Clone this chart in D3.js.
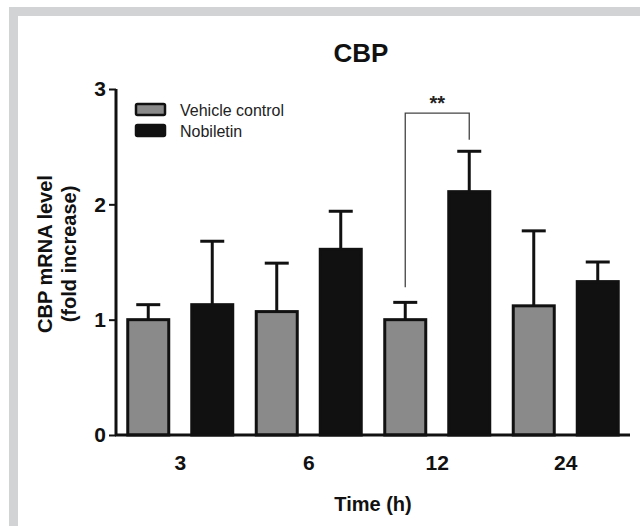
<!DOCTYPE html>
<meta charset="utf-8">
<script src="https://d3js.org/d3.v7.min.js"></script>
<style>
  body { margin: 0; background: #fff; }
  text { font-family: "Liberation Sans", Arial, Helvetica, sans-serif; }
</style>
<svg id="chart" width="640" height="526"></svg>
<script>

// data
var times = ["3", "6", "12", "24"];
var seriesNames = ["Vehicle control", "Nobiletin"];
var vehicleMean = [1.00, 1.07, 1.00, 1.12];
var vehicleSD   = [0.13, 0.42, 0.15, 0.65];
var nobiletinMean = [1.13, 1.61, 2.11, 1.33];
var nobiletinSD   = [0.55, 0.33, 0.35, 0.17];
var yTicks = [0, 1, 2, 3];

// significance bracket at 12 h (y values in data units)
var sigTime = "12";
var sigLabel = "**";
var sigTop = 2.79, sigLeftEnd = 1.28, sigRightEnd = 2.56;

var svg = d3.select("#chart");

// grey frame on top and left
svg.append("rect").attr("x", 9).attr("y", 7).attr("width", 631).attr("height", 9).attr("fill", "#d2d3d5");
svg.append("rect").attr("x", 9).attr("y", 7).attr("width", 9).attr("height", 519).attr("fill", "#d2d3d5");

var plotLeft = 116, plotRight = 630, plotTop = 89, plotBottom = 435;

var x = d3.scaleBand().domain(times).range([plotLeft, plotRight]);
var xSub = d3.scaleOrdinal().domain(seriesNames).range([-32, 32]);
var y = d3.scaleLinear().domain([0, 3]).range([plotBottom, plotTop]);
var color = d3.scaleOrdinal().domain(seriesNames).range(["#8a8a8a", "#111111"]);

var rows = [];
times.forEach(function(t, i) {
  rows.push({time: t, key: seriesNames[0], mean: vehicleMean[i], sd: vehicleSD[i]});
  rows.push({time: t, key: seriesNames[1], mean: nobiletinMean[i], sd: nobiletinSD[i]});
});

var barW = 41;
function cx(d) { return x(d.time) + x.bandwidth() / 2 + xSub(d.key); }

// error bars (upper only)
var err = svg.append("g").attr("stroke", "#111").attr("stroke-width", 3);
err.selectAll(".ev").data(rows).enter().append("line")
  .attr("x1", cx).attr("x2", cx)
  .attr("y1", function(d) { return y(d.mean); })
  .attr("y2", function(d) { return y(d.mean + d.sd); });
err.selectAll(".cap").data(rows).enter().append("line")
  .attr("x1", function(d) { return cx(d) - 12; })
  .attr("x2", function(d) { return cx(d) + 12; })
  .attr("y1", function(d) { return y(d.mean + d.sd); })
  .attr("y2", function(d) { return y(d.mean + d.sd); });

// bars
svg.append("g").selectAll("rect").data(rows).enter().append("rect")
  .attr("x", function(d) { return cx(d) - barW / 2; })
  .attr("y", function(d) { return y(d.mean); })
  .attr("width", barW)
  .attr("height", function(d) { return plotBottom - y(d.mean); })
  .attr("fill", function(d) { return color(d.key); })
  .attr("stroke", "#111")
  .attr("stroke-width", 3);

// axes
var yAxis = svg.append("g")
  .attr("transform", "translate(" + plotLeft + ",0)")
  .call(d3.axisLeft(y).tickValues(yTicks).tickFormat(d3.format("d")).tickSize(7).tickPadding(3));
yAxis.select(".domain").attr("stroke", "#111").attr("stroke-width", 3)
  .attr("d", "M0," + plotTop + "V" + plotBottom);
yAxis.selectAll(".tick line").attr("stroke", "#111").attr("stroke-width", 2);
yAxis.selectAll(".tick text").attr("font-size", 21).attr("font-weight", "bold").attr("fill", "#111")
  .attr("font-family", "Liberation Sans, Arial, sans-serif");

var xAxis = svg.append("g")
  .attr("transform", "translate(0," + plotBottom + ")")
  .call(d3.axisBottom(x).tickSize(0).tickPadding(20));
xAxis.select(".domain").attr("stroke", "#111").attr("stroke-width", 3)
  .attr("d", "M" + (plotLeft - 1) + ",0H" + plotRight);
xAxis.selectAll(".tick text").attr("font-size", 21).attr("font-weight", "bold").attr("fill", "#111")
  .attr("font-family", "Liberation Sans, Arial, sans-serif");

// significance bracket
var xl = x(sigTime) + x.bandwidth() / 2 + xSub(seriesNames[0]);
var xr = x(sigTime) + x.bandwidth() / 2 + xSub(seriesNames[1]);
svg.append("path")
  .attr("d", "M" + xl + "," + y(sigLeftEnd) + "V" + y(sigTop) + "H" + xr + "V" + y(sigRightEnd))
  .attr("fill", "none").attr("stroke", "#444").attr("stroke-width", 1.3);
svg.append("text")
  .attr("x", (xl + xr) / 2).attr("y", y(sigTop) - 3)
  .attr("text-anchor", "middle").attr("font-size", 20).attr("font-weight", "bold").attr("fill", "#222")
  .text(sigLabel);

// legend
var legend = svg.append("g").selectAll("g").data(seriesNames).enter().append("g")
  .attr("transform", function(d, i) { return "translate(136," + (104 + i * 21) + ")"; });
legend.append("rect")
  .attr("width", 29).attr("height", 11).attr("rx", 1.5)
  .attr("fill", function(d) { return color(d); })
  .attr("stroke", "#111").attr("stroke-width", 2.5);
legend.append("text")
  .attr("x", 44).attr("y", 12)
  .attr("font-size", 16).attr("fill", "#222")
  .text(function(d) { return d; });

// title and axis labels
svg.append("text")
  .attr("x", 361).attr("y", 62)
  .attr("text-anchor", "middle").attr("font-size", 26).attr("font-weight", "bold").attr("fill", "#111")
  .text("CBP");

svg.append("text")
  .attr("transform", "translate(52,254) rotate(-90)")
  .attr("text-anchor", "middle").attr("font-size", 20).attr("font-weight", "bold").attr("fill", "#111")
  .text("CBP mRNA level");
svg.append("text")
  .attr("transform", "translate(76,254) rotate(-90)")
  .attr("text-anchor", "middle").attr("font-size", 20).attr("font-weight", "bold").attr("fill", "#111")
  .text("(fold increase)");

svg.append("text")
  .attr("x", 373).attr("y", 511)
  .attr("text-anchor", "middle").attr("font-size", 20).attr("font-weight", "bold").attr("fill", "#111")
  .text("Time (h)");

</script>
